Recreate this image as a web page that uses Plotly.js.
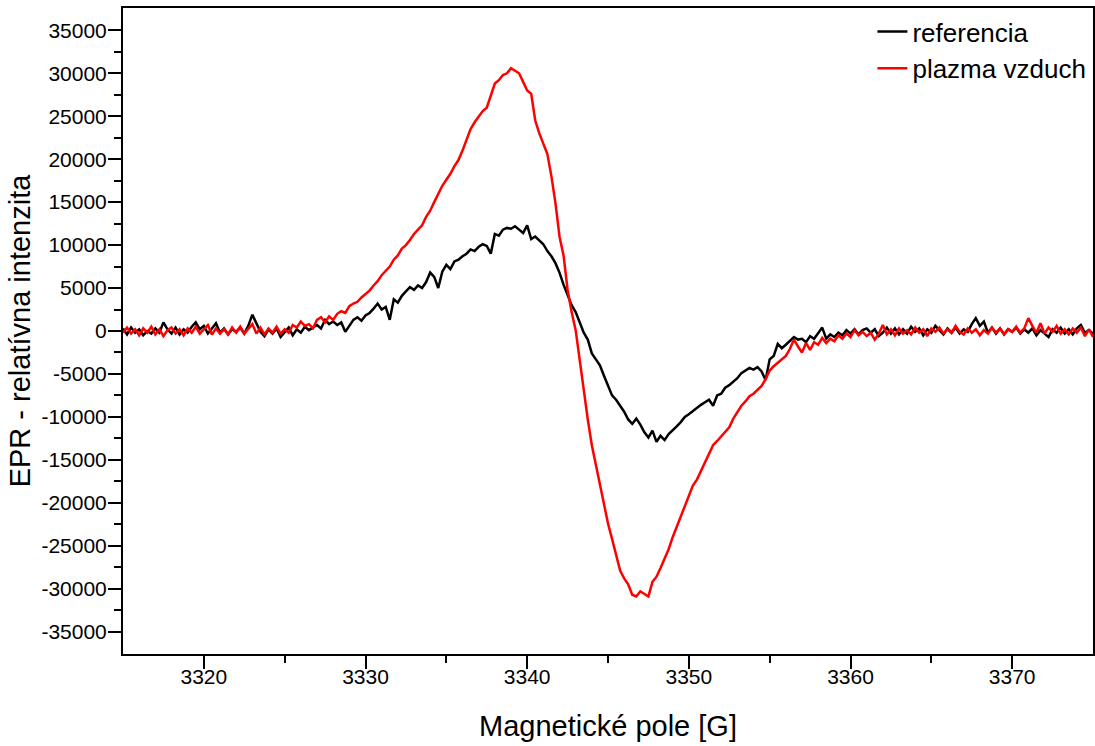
<!DOCTYPE html>
<html>
<head>
<meta charset="utf-8">
<script src="https://cdn.plot.ly/plotly-3.0.1.min.js"></script>
<style>html,body{margin:0;padding:0;background:#fff;}#chart{width:1095px;height:746px;}</style>
</head>
<body>
<div id="chart"></div>
<script>
// Magnetic field [G], 0.25 G step
const field = [
3315.00,3315.25,3315.50,3315.75,3316.00,3316.25,3316.50,3316.75,3317.00,3317.25,
3317.50,3317.75,3318.00,3318.25,3318.50,3318.75,3319.00,3319.25,3319.50,3319.75,
3320.00,3320.25,3320.50,3320.75,3321.00,3321.25,3321.50,3321.75,3322.00,3322.25,
3322.50,3322.75,3323.00,3323.25,3323.50,3323.75,3324.00,3324.25,3324.50,3324.75,
3325.00,3325.25,3325.50,3325.75,3326.00,3326.25,3326.50,3326.75,3327.00,3327.25,
3327.50,3327.75,3328.00,3328.25,3328.50,3328.75,3329.00,3329.25,3329.50,3329.75,
3330.00,3330.25,3330.50,3330.75,3331.00,3331.25,3331.50,3331.75,3332.00,3332.25,
3332.50,3332.75,3333.00,3333.25,3333.50,3333.75,3334.00,3334.25,3334.50,3334.75,
3335.00,3335.25,3335.50,3335.75,3336.00,3336.25,3336.50,3336.75,3337.00,3337.25,
3337.50,3337.75,3338.00,3338.25,3338.50,3338.75,3339.00,3339.25,3339.50,3339.75,
3340.00,3340.25,3340.50,3340.75,3341.00,3341.25,3341.50,3341.75,3342.00,3342.25,
3342.50,3342.75,3343.00,3343.25,3343.50,3343.75,3344.00,3344.25,3344.50,3344.75,
3345.00,3345.25,3345.50,3345.75,3346.00,3346.25,3346.50,3346.75,3347.00,3347.25,
3347.50,3347.75,3348.00,3348.25,3348.50,3348.75,3349.00,3349.25,3349.50,3349.75,
3350.00,3350.25,3350.50,3350.75,3351.00,3351.25,3351.50,3351.75,3352.00,3352.25,
3352.50,3352.75,3353.00,3353.25,3353.50,3353.75,3354.00,3354.25,3354.50,3354.75,
3355.00,3355.25,3355.50,3355.75,3356.00,3356.25,3356.50,3356.75,3357.00,3357.25,
3357.50,3357.75,3358.00,3358.25,3358.50,3358.75,3359.00,3359.25,3359.50,3359.75,
3360.00,3360.25,3360.50,3360.75,3361.00,3361.25,3361.50,3361.75,3362.00,3362.25,
3362.50,3362.75,3363.00,3363.25,3363.50,3363.75,3364.00,3364.25,3364.50,3364.75,
3365.00,3365.25,3365.50,3365.75,3366.00,3366.25,3366.50,3366.75,3367.00,3367.25,
3367.50,3367.75,3368.00,3368.25,3368.50,3368.75,3369.00,3369.25,3369.50,3369.75,
3370.00,3370.25,3370.50,3370.75,3371.00,3371.25,3371.50,3371.75,3372.00,3372.25,
3372.50,3372.75,3373.00,3373.25,3373.50,3373.75,3374.00,3374.25,3374.50,3374.75,
3375.00];

// "referencia" (black)
const referencia = [
300,-400,400,-200,200,-500,0,-300,300,-200,
1000,200,-300,400,-400,200,-200,500,1000,200,
600,-300,300,900,-200,300,-400,200,-100,400,
-300,600,1900,800,-100,-600,200,-300,300,-700,
-200,400,-500,200,-200,500,100,400,700,300,
1300,800,1100,700,1000,-100,600,1300,1600,1200,
1800,2100,2600,3200,2500,2800,1300,3700,3300,4100,
4600,5100,4800,5300,5000,5700,6800,6300,5000,6900,
7700,7200,8100,8300,8700,9000,9500,9300,9800,10100,
9900,9000,11300,11100,11800,12000,11900,12200,11800,11400,
12300,10700,11000,10500,10100,9300,8700,7900,6800,5400,
4100,3000,2200,1100,-200,-1000,-2600,-3300,-4000,-5200,
-6300,-7500,-8000,-8700,-9400,-10300,-10800,-10200,-10900,-11800,
-12400,-11600,-12900,-12200,-12700,-12000,-11600,-11100,-10600,-10000,
-9700,-9300,-9000,-8600,-8300,-8000,-8700,-7500,-7300,-6600,
-6300,-5900,-5500,-4900,-4600,-4300,-4500,-4200,-4700,-5700,
-3300,-2900,-1500,-2000,-1600,-1100,-700,-1000,-900,-1300,
-600,-900,-300,400,-900,-400,-700,-200,-500,100,
-300,200,-400,100,300,-200,200,-600,-200,400,
-300,300,-400,200,-300,500,-100,300,-500,200,
-200,600,100,-400,300,-200,400,-300,200,-100,
800,1500,600,1100,-200,400,-300,300,-400,200,
-100,400,-300,200,-200,300,-500,100,-300,-700,
200,-200,400,-300,200,-400,300,700,-200,100,
-300];

// "plazma vzduch" (red)
const plazmaVzduch = [
-200,400,-300,200,-500,300,-200,500,-400,200,
-600,100,400,-300,200,-500,300,-200,500,-300,
200,700,-400,300,-300,200,-400,400,-200,500,
-300,300,800,-300,400,-400,300,-200,500,-300,
200,-200,700,400,1100,600,800,300,1300,1600,
1000,1700,1300,2000,2300,2100,2900,3200,3400,3900,
4300,4700,5300,5800,6500,7000,7500,8300,8800,9600,
10000,10600,11300,11800,12300,13300,14000,15000,15900,16900,
17600,18300,19200,19900,21000,22300,23500,24300,25000,25600,
26000,27300,28800,29200,29800,30000,30600,30300,30000,29000,
28000,27600,24500,23000,21800,20600,18000,14900,11000,8800,
4800,2200,100,-3500,-6700,-10300,-13300,-15600,-17600,-20300,
-22400,-24200,-26200,-27900,-28800,-29500,-30700,-30900,-30300,-30600,
-30900,-29200,-28600,-27600,-26600,-25400,-24000,-22800,-21600,-20500,
-19200,-18000,-17300,-16300,-15200,-14400,-13300,-12800,-12300,-11800,
-11200,-10200,-9500,-8700,-8200,-7600,-7300,-6800,-6400,-5600,
-4600,-4100,-3700,-3300,-2900,-2100,-1000,-1800,-2500,-1400,
-2200,-1300,-1600,-800,-1400,-900,-1200,-500,-900,-300,
-700,100,-500,-100,-600,-200,-1000,-300,700,-400,
200,-500,300,-300,100,-400,400,-200,200,-600,
300,-100,400,-300,200,-200,600,-100,-400,300,
-200,200,-500,100,-300,400,-200,300,-400,200,
-100,500,-200,300,1500,600,-200,900,-300,400,
-100,600,-300,200,-400,300,-200,400,-600,200,
-700];

const seriesNames = ["referencia", "plazma vzduch"];
const seriesColors = ["#000000", "#ff0000"];

const xTickVals = [3320, 3330, 3340, 3350, 3360, 3370];
const xMinorVals = [3325, 3335, 3345, 3355, 3365];
const yTickVals = [-35000,-30000,-25000,-20000,-15000,-10000,-5000,0,5000,10000,15000,20000,25000,30000,35000];
const yTickText = ["-35000","-30000","-25000","-20000","-15000","-10000","-5000","0","5000","10000","15000","20000","25000","30000","35000"];
const yMinorVals = [-32500,-27500,-22500,-17500,-12500,-7500,-2500,2500,7500,12500,17500,22500,27500,32500];

const font = "Liberation Sans, Arial, sans-serif";

const traces = [
  {x: field, y: referencia, name: seriesNames[0], type: "scatter", mode: "lines",
   line: {color: seriesColors[0], width: 2.5}},
  {x: field, y: plazmaVzduch, name: seriesNames[1], type: "scatter", mode: "lines",
   line: {color: seriesColors[1], width: 2.5}}
];

const layout = {
  width: 1095, height: 746,
  paper_bgcolor: "#fff", plot_bgcolor: "#fff",
  margin: {l: 123, r: 2, t: 8, b: 92},
  font: {family: font, color: "#000", size: 21},
  showlegend: true,
  legend: {
    x: 0.7726, y: 1, xanchor: "left", yanchor: "top",
    bgcolor: "rgba(0,0,0,0)", borderwidth: 0,
    font: {family: font, size: 26, color: "#000"},
    tracegroupgap: 0
  },
  xaxis: {
    range: [3315, 3375],
    tickvals: xTickVals,
    ticks: "outside", ticklen: 13, tickwidth: 2, tickcolor: "#000",
    ticklabelstandoff: -10,
    minor: {tickvals: xMinorVals, ticks: "outside", ticklen: 7, tickwidth: 2, tickcolor: "#000", showgrid: false},
    showline: true, linewidth: 2, linecolor: "#000", mirror: true,
    showgrid: false, zeroline: false,
    tickfont: {family: font, size: 21, color: "#000"},
    title: {text: "Magnetické pole [G]", font: {family: font, size: 29, color: "#000"}, standoff: 28}
  },
  yaxis: {
    range: [-37600, 37600],
    tickvals: yTickVals, ticktext: yTickText,
    ticks: "outside", ticklen: 13, tickwidth: 2, tickcolor: "#000",
    ticklabelstandoff: -3,
    minor: {tickvals: yMinorVals, ticks: "outside", ticklen: 7, tickwidth: 2, tickcolor: "#000", showgrid: false},
    showline: true, linewidth: 2, linecolor: "#000", mirror: true,
    showgrid: false, zeroline: false,
    tickfont: {family: font, size: 21, color: "#000"},
    title: {text: "EPR - relatívna intenzita", font: {family: font, size: 29, color: "#000"}, standoff: 2}
  }
};

Plotly.newPlot("chart", traces, layout, {displayModeBar: false, staticPlot: true});
</script>
</body>
</html>
